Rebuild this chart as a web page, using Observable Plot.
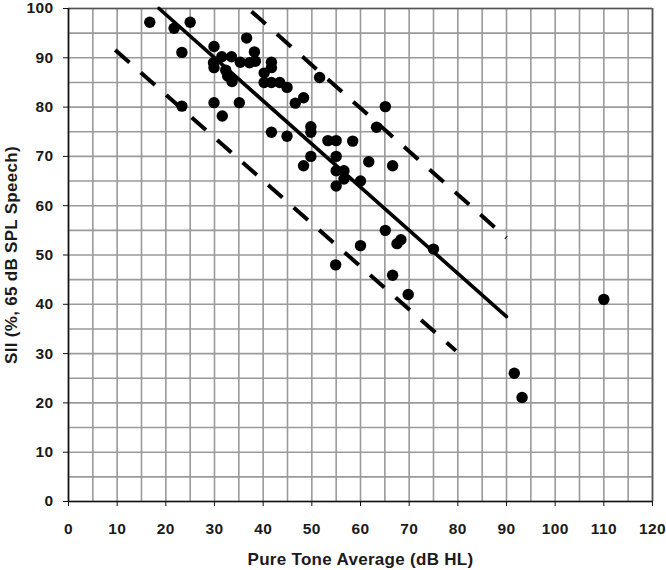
<!DOCTYPE html>
<html>
<head>
<meta charset="utf-8">
<script src="https://cdn.jsdelivr.net/npm/d3@7"></script>
<script src="https://cdn.jsdelivr.net/npm/@observablehq/plot@0.6"></script>
<style>
  html, body { margin: 0; padding: 0; background: #fff; }
  #chart svg { display: block; background: #fff; overflow: visible; }
  #chart text { font-family: "Liberation Sans", Arial, sans-serif; font-weight: bold; fill: #1a1a1a; }
  #chart g[aria-label="x-axis tick label"] text,
  #chart g[aria-label="y-axis tick label"] text { font-size: 15.5px; letter-spacing: 0.4px; }
  #chart .title text { font-size: 17px; letter-spacing: 0.3px; }
</style>
</head>
<body>
<div id="chart"></div>
<script>
// Scatter data: Pure Tone Average (dB HL) vs SII (%)
const pta = [16.7, 21.7, 25.0, 23.3, 23.3, 29.9, 29.8, 29.9, 31.5, 33.5,
             32.3, 32.7, 33.6, 35.3, 37.2, 38.4, 38.2, 36.6, 29.9, 35.1,
             31.6, 41.7, 41.7, 40.2, 40.2, 41.7, 43.4, 44.9, 41.7, 44.9,
             46.6, 48.3, 48.3, 49.8, 49.8, 49.8, 51.6, 53.3, 55.0, 55.0,
             55.0, 56.6, 56.6, 55.0, 58.4, 61.7, 66.6, 60.0, 63.3, 65.1,
             65.1, 60.0, 67.5, 68.3, 75.0, 54.9, 66.6, 69.8, 110.0, 91.6,
             93.2];
const sii = [97.2, 96.0, 97.2, 91.1, 80.2, 92.3, 89.0, 88.0, 90.2, 90.2,
             87.5, 86.3, 85.2, 89.1, 89.0, 89.3, 91.2, 94.0, 80.9, 80.9,
             78.2, 89.1, 88.0, 86.9, 85.0, 85.0, 85.0, 84.0, 74.9, 74.1,
             80.8, 81.9, 68.1, 76.0, 74.9, 70.0, 86.0, 73.2, 73.2, 70.0,
             67.1, 67.1, 65.4, 64.0, 73.1, 68.9, 68.1, 65.0, 75.9, 80.1,
             55.0, 51.9, 52.3, 53.1, 51.2, 48.0, 45.9, 42.0, 41.0, 26.0,
             21.1];

// Regression line and prediction bounds (endpoints)
const fitX = [18.6, 90.0];
const fitY = [100.0, 37.5];
const upperX = [37.6, 90.0];
const upperY = [99.4, 53.5];
const lowerX = [9.6, 79.6];
const lowerY = [91.6, 30.6];

// Tick values
const xTicks = [0, 10, 20, 30, 40, 50, 60, 70, 80, 90, 100, 110, 120];
const yTicks = [0, 10, 20, 30, 40, 50, 60, 70, 80, 90, 100];
const xGrid = d3.range(0, 121, 5);
const yGrid = d3.range(0, 101, 5);

const xTitle = "Pure Tone Average (dB HL)";
const yTitle = "SII (%, 65 dB SPL Speech)";

const points = pta.map((x, i) => ({x, y: sii[i]}));
const toLine = (xs, ys) => xs.map((x, i) => ({x, y: ys[i]}));

const chart = Plot.plot({
  width: 666,
  height: 570,
  marginLeft: 68,
  marginRight: 14,
  marginTop: 8,
  marginBottom: 69,
  x: {domain: [0, 120]},
  y: {domain: [0, 100]},
  marks: [
    Plot.gridX(xGrid, {stroke: "#9a9a9a", strokeOpacity: 1, strokeWidth: 1.6}),
    Plot.gridY(yGrid, {stroke: "#9a9a9a", strokeOpacity: 1, strokeWidth: 1.6}),
    Plot.ruleY([100], {stroke: "#555", strokeWidth: 1.6}),
    Plot.ruleX([120], {stroke: "#555", strokeWidth: 1.6}),
    Plot.ruleX([0], {stroke: "#111", strokeWidth: 1.6}),
    Plot.ruleY([0], {stroke: "#111", strokeWidth: 1.6}),
    Plot.axisX(xTicks, {tickSize: 5, tickPadding: 16, label: null, stroke: "#111"}),
    Plot.axisY(yTicks, {tickSize: 5, tickPadding: 10, label: null, stroke: "#111"}),
    Plot.line(toLine(upperX, upperY), {x: "x", y: "y", stroke: "#000", strokeWidth: 4, strokeDasharray: "19,15", strokeLinecap: "butt"}),
    Plot.line(toLine(lowerX, lowerY), {x: "x", y: "y", stroke: "#000", strokeWidth: 4, strokeDasharray: "19,15", strokeLinecap: "butt"}),
    Plot.line(toLine(fitX, fitY), {x: "x", y: "y", stroke: "#000", strokeWidth: 3.6}),
    Plot.dot(points, {x: "x", y: "y", r: 5.7, fill: "#000", stroke: "none"}),
    Plot.text([xTitle], {text: d => d, frameAnchor: "bottom", textAnchor: "middle", lineAnchor: "middle", dy: 58, className: "title", fill: "#1a1a1a"}),
    Plot.text([yTitle], {text: d => d, frameAnchor: "left", textAnchor: "middle", lineAnchor: "middle", dx: -57, rotate: -90, className: "title", fill: "#1a1a1a"})
  ]
});

document.getElementById("chart").appendChild(chart);
</script>
</body>
</html>
